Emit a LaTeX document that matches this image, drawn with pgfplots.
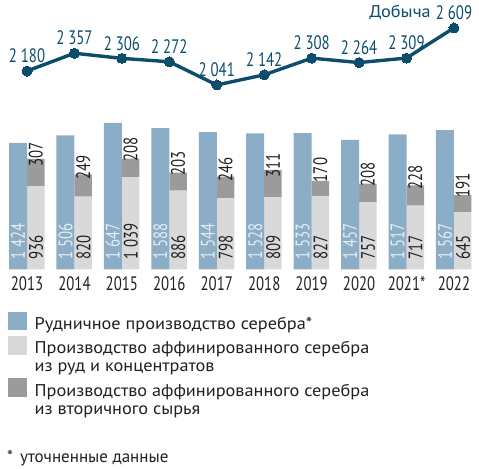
\documentclass[border=0pt]{standalone}
\usepackage{fontspec}
\setmainfont{PT Sans}
\newfontfamily\cond{PT Sans}[FakeStretch=0.76]
\newfontfamily\wide{PT Sans}[FakeStretch=1.075]
\usepackage{pgfplots}
\usepackage{pgfplotstable}
\pgfplotsset{compat=1.18}
\definecolor{barblue}{HTML}{8BADC5}
\definecolor{lgrey}{HTML}{D9D9D9}
\definecolor{dgrey}{HTML}{9B9B9B}
\definecolor{lineblue}{HTML}{0C4D6E}
\definecolor{txt}{HTML}{231F20}
\definecolor{lbl}{HTML}{E6EEF4}

\pgfplotstableread{
x blue light dark line zero
0 1424 936 307 2180 0
1 1506 820 249 2357 0
2 1647 1039 208 2306 0
3 1588 886 203 2272 0
4 1544 798 246 2041 0
5 1528 809 311 2142 0
6 1533 827 170 2308 0
7 1457 757 208 2264 0
8 1517 717 228 2309 0
9 1567 645 191 2609 0
}\data

\newcommand{\numfont}{\cond\fontsize{19.5bp}{21bp}\selectfont}
\newcommand{\legfont}{\wide\fontsize{17bp}{18bp}\selectfont}

\begin{document}
\begin{tikzpicture}[x=1bp,y=1bp]
\useasboundingbox (0,0) rectangle (479,469);
\pgfplotsset{
  base/.style={scale only axis, width=474.4bp, xmin=-0.5, xmax=9.5,
    axis line style={draw=none}, tick style={draw=none}, ytick=\empty, xtick=\empty,
    clip=false, at={(3.28bp,199.5bp)}, anchor=south west, height=178bp, ymin=0, ymax=2000,
    /pgf/number format/assume math mode=true,
    /pgf/number format/1000 sep={\hspace{0.2em}}},
}
% grey stacked bars
\begin{axis}[base, ybar stacked, bar width=17.5bp, bar shift=8.75bp]
\addplot[fill=lgrey, draw=none] table[x=x,y=light]{\data};
\addplot[fill=dgrey, draw=none, nodes near coords, point meta=explicit,
  nodes near coords align=horizontal,
  nodes near coords style={font=\numfont, text=txt, rotate=90, anchor=west, inner sep=0pt, inner xsep=6bp}]
  table[x=x,y=dark,meta=dark]{\data};
\end{axis}
% blue bars, bottom labels, years, legend
\begin{axis}[base, xtick=data,
  xticklabels={2013,2014,2015,2016,2017,2018,2019,2020,2021*,2022},
  xticklabel style={font=\numfont, text=txt, anchor=north, yshift=-4bp},
  legend style={at={(0.00995,-0.2371)}, anchor=north west, draw=none, fill=none,
    inner sep=0pt, row sep=1.1bp, column sep=8bp,
    cells={anchor=base west}, nodes={inner sep=0pt, font=\legfont, text=txt, text height=11.5bp, text depth=5.4bp}}]
\addplot[ybar, bar width=18bp, bar shift=-9bp, fill=barblue, draw=none, forget plot] table[x=x,y=blue]{\data};
\addplot[draw=none, mark=none, forget plot, nodes near coords, point meta=explicit,
  every node near coord/.append style={font=\numfont, text=lbl, xshift=-9bp, rotate=90, anchor=west, inner sep=0pt, inner xsep=10bp}]
  table[x=x,y=zero,meta=blue]{\data};
\addplot[draw=none, mark=none, forget plot, nodes near coords, point meta=explicit,
  every node near coord/.append style={font=\numfont, text=txt, xshift=9bp, rotate=90, anchor=west, inner sep=0pt, inner xsep=10bp}]
  table[x=x,y=zero,meta=light]{\data};
\addlegendimage{legend image code/.code={\fill[barblue] (0bp,0bp) rectangle (18bp,17.5bp);}}
\addlegendentry{Рудничное производство серебра*}
\addlegendimage{legend image code/.code={\fill[lgrey] (0bp,0bp) rectangle (18bp,17.5bp);}}
\addlegendentry{Производство аффинированного серебра}
\addlegendimage{legend image code/.code={\fill[white, opacity=0] (0bp,0bp) rectangle (18bp,1bp);}}
\addlegendentry{из руд и концентратов}
\addlegendimage{legend image code/.code={\fill[dgrey] (0bp,0bp) rectangle (18bp,17.5bp);}}
\addlegendentry{Производство аффинированного серебра}
\addlegendimage{legend image code/.code={\fill[white, opacity=0] (0bp,0bp) rectangle (18bp,1bp);}}
\addlegendentry{из вторичного сырья}
\end{axis}
% production line
\begin{axis}[base, at={(3.28bp,379.9bp)}, height=70.3bp, ymin=2000, ymax=2700]
\addplot[lineblue, line width=3.4bp, mark=*, mark size=5bp,
  mark options={fill=lineblue, draw=lineblue, line width=0pt},
  nodes near coords, point meta=explicit,
  every node near coord/.append style={font=\numfont, text=lineblue, anchor=south, inner sep=0pt, yshift=8bp}]
  table[x=x,y=line,meta=line]{\data};
\node[anchor=base east, font=\legfont, text=lineblue, inner sep=0pt] at (axis cs:9,2609) [xshift=-23bp, yshift=10bp] {Добыча};
\end{axis}
\node[anchor=base west, inner sep=0pt, font=\fontsize{17bp}{18bp}\selectfont, text=txt] at (7,6) {*\hspace{7bp}уточненные данные};
\end{tikzpicture}
\end{document}
